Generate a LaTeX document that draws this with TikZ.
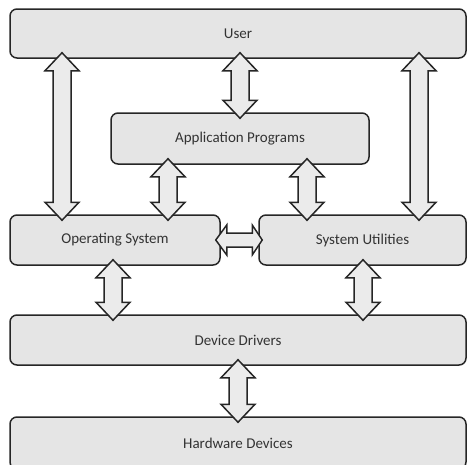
\documentclass[tikz,border=0pt]{standalone}
\usepackage{fontspec}
\setmainfont{Carlito}
\usetikzlibrary{calc}
\tikzset{
    layer/.style={draw=black!85, line width=1.5pt, fill=black!10, rounded corners=7pt,
        text=black!80, font=\fontsize{15}{18}\selectfont, inner sep=0pt},
    blockarrow/.style={draw=black!85, line width=1.5pt, fill=black!8, line join=miter},
}
% vertical double block arrow: x position, upper node, lower node
\newcommand{\vlink}[3]{%
  \draw[blockarrow] let \p1=(#2.south), \p2=(#3.north) in
    (#1,\y1+6) -- (#1+17,\y1-12) -- (#1+9,\y1-12) -- (#1+9,\y2+12) -- (#1+17,\y2+12)
    -- (#1,\y2-6) -- (#1-17,\y2+12) -- (#1-9,\y2+12) -- (#1-9,\y1-12) -- (#1-17,\y1-12) -- cycle;
}
% horizontal double block arrow: y position, left node, right node
\newcommand{\hlink}[3]{%
  \draw[blockarrow] let \p1=(#2.east), \p2=(#3.west) in
    (\x1-5,#1) -- (\x1+6,#1+15) -- (\x1+6,#1+7) -- (\x2-6,#1+7) -- (\x2-6,#1+15)
    -- (\x2+4,#1) -- (\x2-6,#1-15) -- (\x2-6,#1-7) -- (\x1+6,#1-7) -- (\x1+6,#1-15) -- cycle;
}

\begin{document}
\begin{tikzpicture}[x=1pt,y=1pt]
\useasboundingbox (0,0) rectangle (468,-464);

\node[layer, minimum width=456pt, minimum height=49pt] (user) at (238,-33.5) {User};
\node[layer, minimum width=258pt, minimum height=51pt] (apps) at (240,-138.5) {Application Programs};
\node[layer, minimum width=210pt, minimum height=50pt] (os) at (115,-240) {Operating System};
\node[layer, minimum width=207pt, minimum height=50pt] (util) at (362.5,-240) {System Utilities};
\node[layer, minimum width=456pt, minimum height=50pt] (drivers) at (238,-340) {Device Drivers};
\node[layer, minimum width=456pt, minimum height=52pt] (hw) at (238,-443) {Hardware Devices};

\vlink{62}{user}{os}
\vlink{240}{user}{apps}
\vlink{419}{user}{util}
\vlink{168}{apps}{os}
\vlink{307}{apps}{util}
\hlink{-240}{os}{util}
\vlink{113}{os}{drivers}
\vlink{363}{util}{drivers}
\vlink{238}{drivers}{hw}
\end{tikzpicture}
\end{document}
